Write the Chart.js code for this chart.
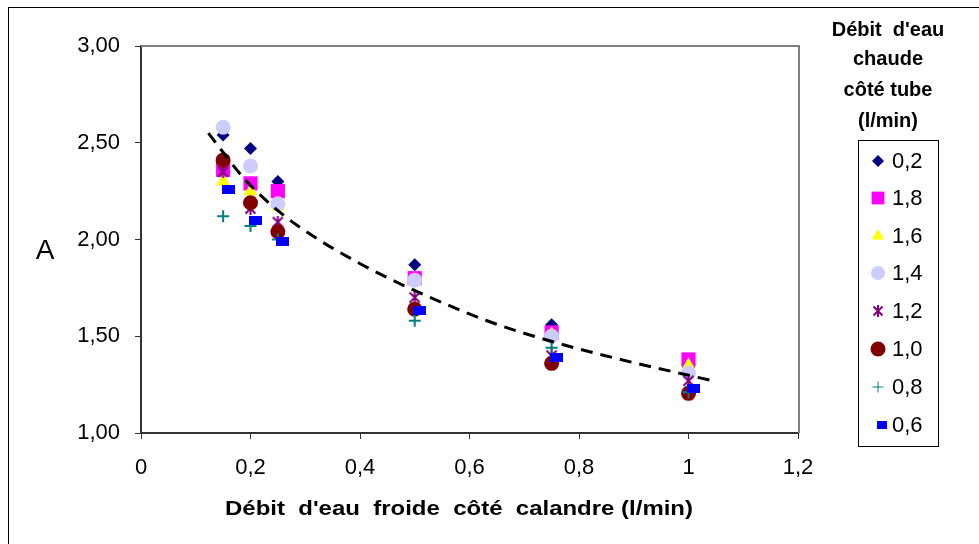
<!DOCTYPE html>
<html><head><meta charset="utf-8">
<script src="https://cdn.jsdelivr.net/npm/chart.js@4/dist/chart.umd.min.js"></script>
<style>html,body{margin:0;padding:0;background:#fff;overflow:hidden}</style>
</head><body>
<canvas id="c" width="979" height="544" style="display:block"></canvas>
<script>
// ---- data ----
const xCold = [0.15, 0.2, 0.25, 0.5, 0.75, 1.0];
const xCold06 = [0.159, 0.209, 0.259, 0.509, 0.759, 1.009];
const seriesLabels = ['0,2', '1,8', '1,6', '1,4', '1,2', '1,0', '0,8', '0,6'];
const a02 = [2.54, 2.47, 2.30, 1.87, 1.56, 1.34];
const a18 = [2.36, 2.29, 2.25, 1.80, 1.52, 1.38];
const a16 = [2.30, 2.25, 2.17, 1.785, 1.51, 1.35];
const a14 = [2.58, 2.38, 2.185, 1.79, 1.50, 1.31];
const a12 = [2.35, 2.16, 2.09, 1.70, 1.40, 1.27];
const a10 = [2.41, 2.19, 2.04, 1.64, 1.36, 1.205];
const a08 = [2.12, 2.07, 2.00, 1.58, 1.44, 1.21];
const a06 = [2.26, 2.10, 1.99, 1.635, 1.39, 1.23];
const trendX = [0.123, 0.19, 0.254, 0.324, 0.397, 0.474, 0.529, 0.632, 0.754, 0.876, 1.044];
const trendY = [2.55, 2.31, 2.14, 2.00, 1.88, 1.77, 1.70, 1.58, 1.47, 1.38, 1.27];
const xTickLabels = ['0', '0,2', '0,4', '0,6', '0,8', '1', '1,2'];
const yTickLabels = ['1,00', '1,50', '2,00', '2,50', '3,00'];
const legendTitle = ["Débit  d'eau", 'chaude', 'côté tube', '(l/min)'];
const yTitle = 'A';
const xTitle = "Débit  d'eau  froide  côté  calandre (l/min)";

const FONT = "'Liberation Sans', Arial, sans-serif";

// custom marker images
function makeRect(w, h, color) {
  const c = document.createElement('canvas'); c.width = w; c.height = h;
  const g = c.getContext('2d'); g.fillStyle = color; g.fillRect(0, 0, w, h); return c;
}
function makeStar(s, color) {
  const c = document.createElement('canvas'); c.width = s; c.height = s;
  const g = c.getContext('2d'); g.strokeStyle = color; g.lineWidth = 2;
  g.beginPath();
  g.moveTo(1.5, 1.5); g.lineTo(s - 1.5, s - 1.5);
  g.moveTo(s - 1.5, 1.5); g.lineTo(1.5, s - 1.5);
  g.moveTo(s / 2, 0); g.lineTo(s / 2, s);
  g.stroke(); return c;
}
const blueRect = makeRect(13, 9, '#0000FF');
const blueRectSmall = makeRect(10, 8, '#0000FF');
const purpleStar = makeStar(13, '#800080');
const purpleStarSmall = makeStar(12, '#800080');

const styles = [
  { color: '#000080', pointStyle: 'rectRot', radius: 6.5, lr: 6 },
  { color: '#FF00FF', pointStyle: 'rect', radius: 10, lr: 9 },
  { color: '#FFFF00', pointStyle: 'triangle', radius: 8, lr: 7 },
  { color: '#CCCCFF', pointStyle: 'circle', radius: 7.5, lr: 7 },
  { color: '#800080', pointStyle: purpleStar, radius: 6, lr: 6, legendImg: purpleStarSmall },
  { color: '#800000', pointStyle: 'circle', radius: 7.5, lr: 7.5 },
  { color: '#008080', pointStyle: 'cross', radius: 6, lr: 5.5, bw: 2 },
  { color: '#0000FF', pointStyle: blueRect, radius: 6, lr: 5, legendImg: blueRectSmall }
];
const seriesValues = [a02, a18, a16, a14, a12, a10, a08, a06];

const datasets = seriesValues.map((vals, i) => {
  const xs = i === 7 ? xCold06 : xCold;
  const s = styles[i];
  return {
    label: seriesLabels[i],
    data: vals.map((v, k) => ({ x: xs[k], y: v })),
    pointStyle: s.pointStyle,
    pointRadius: s.radius,
    pointHoverRadius: s.radius,
    backgroundColor: s.color,
    borderColor: s.color,
    pointBorderWidth: s.bw || 0,
    showLine: false,
    order: 10 - i
  };
});
datasets.push({
  label: 'trend',
  data: trendX.map((x, k) => ({ x: x, y: trendY[k] })),
  showLine: true,
  pointRadius: 0,
  borderColor: '#000',
  borderWidth: 3,
  borderDash: [12, 8],
  cubicInterpolationMode: 'monotone',
  fill: false,
  order: 0
});

function stretchText(ctx, text, cx, cy, targetW) {
  const w = ctx.measureText(text).width;
  const sx = targetW / w;
  ctx.save();
  ctx.translate(cx, cy);
  ctx.scale(sx, 1);
  ctx.textAlign = 'center';
  ctx.fillText(text, 0, 0);
  ctx.restore();
}

const deco = {
  id: 'deco',
  beforeDraw(chart) {
    const ctx = chart.ctx;
    ctx.save();
    ctx.fillStyle = '#fff'; ctx.fillRect(0, 0, chart.width, chart.height);
    ctx.strokeStyle = '#000'; ctx.lineWidth = 1;
    ctx.strokeRect(8.5, 7.5, 1200, 800);
    ctx.restore();
  },
  beforeDatasetsDraw(chart) {
    const a = chart.chartArea, ctx = chart.ctx;
    ctx.save();
    ctx.strokeStyle = '#808080'; ctx.lineWidth = 2;
    ctx.beginPath();
    ctx.moveTo(a.left, a.top); ctx.lineTo(a.right + 1, a.top); ctx.lineTo(a.right + 1, a.bottom);
    ctx.stroke();
    ctx.restore();
  },
  afterDraw(chart) {
    const ctx = chart.ctx;
    ctx.save();
    ctx.fillStyle = '#000';
    ctx.textBaseline = 'middle';
    // y title
    ctx.font = '28px ' + FONT; ctx.textAlign = 'center';
    ctx.fillText(yTitle, 45, 251);
    // x title
    ctx.font = 'bold 21px ' + FONT;
    stretchText(ctx, xTitle, 459, 509, 468);
    // legend title
    ctx.font = 'bold 20px ' + FONT;
    const ty = [30, 59, 90, 121];
    legendTitle.forEach((t, i) => ctx.fillText(t, 888, ty[i]));
    // legend box
    ctx.strokeStyle = '#000'; ctx.lineWidth = 1;
    ctx.strokeRect(858.5, 140.5, 80, 306);
    ctx.font = '22px ' + FONT; ctx.textAlign = 'left';
    const iy = [161, 198, 236, 273, 311, 349, 387, 425];
    styles.forEach((s, i) => {
      ctx.fillStyle = s.color; ctx.strokeStyle = s.color;
      Chart.helpers.drawPoint(ctx, {
        pointStyle: s.legendImg || s.pointStyle, radius: s.lr, rotation: 0,
        borderWidth: s.bw || 0
      }, i === 7 ? 882 : 878, iy[i]);
      ctx.fillStyle = '#000';
      ctx.fillText(seriesLabels[i], 892, iy[i] + 1);
    });
    ctx.restore();
  }
};

new Chart(document.getElementById('c'), {
  type: 'scatter',
  data: { datasets },
  plugins: [deco],
  options: {
    responsive: false,
    animation: false,
    events: [],
    layout: { padding: { top: 46, right: 181, left: 0, bottom: 0 } },
    plugins: { legend: { display: false }, tooltip: { enabled: false } },
    scales: {
      x: {
        type: 'linear', min: 0, max: 1.2,
        afterFit(s) { s.height = 111; },
        ticks: {
          stepSize: 0.2, padding: 16, color: '#000',
          font: { family: FONT, size: 22 },
          maxRotation: 0,
          callback: (v) => xTickLabels[Math.round(v / 0.2)]
        },
        grid: { drawOnChartArea: false, drawTicks: true, tickLength: 6, color: '#333', lineWidth: 1 },
        border: { color: '#333', width: 2 }
      },
      y: {
        type: 'linear', min: 1, max: 3,
        afterFit(s) { s.width = 141; },
        ticks: {
          stepSize: 0.5, padding: 15, color: '#000',
          font: { family: FONT, size: 22 },
          callback: (v) => yTickLabels[Math.round((v - 1) / 0.5)]
        },
        grid: { drawOnChartArea: false, drawTicks: true, tickLength: 6, color: '#333', lineWidth: 1 },
        border: { color: '#333', width: 2 }
      }
    }
  }
});
</script>
</body></html>
